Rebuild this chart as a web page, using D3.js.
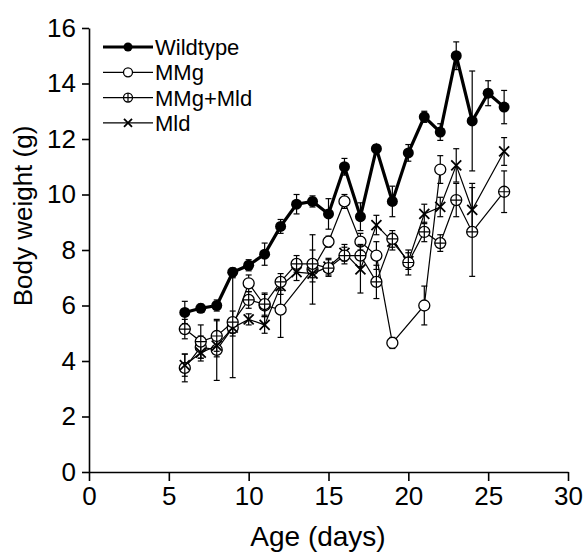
<!DOCTYPE html>
<html>
<head>
<meta charset="utf-8">
<script src="https://cdn.jsdelivr.net/npm/d3@7"></script>
<style>
  body { margin: 0; background: #fff; }
  text { font-family: "Liberation Sans", Arial, Helvetica, sans-serif; }
</style>
</head>
<body>
<div id="chart"></div>
<script>
// Chart size, same as the picture
const width = 585;
const height = 554;

// Body weight (g) per age (days)
const wildDays = [6, 7, 8, 9, 10, 11, 12, 13, 14, 15, 16, 17, 18, 19, 20, 21, 22, 23, 24, 25, 26];
const wildVals = [5.75, 5.9, 6.0, 7.2, 7.45, 7.85, 8.85, 9.65, 9.75, 9.3, 11.0, 9.2, 11.65, 9.75, 11.5, 12.8, 12.25, 15.0, 12.65, 13.65, 13.15];
const wildErr = [0.4, 0.15, 0.2, 0.15, 0.2, 0.4, 0.25, 0.35, 0.2, 0.55, 0.3, 0.5, 0.15, 0.55, 0.3, 0.2, 0.3, 0.5, 1.8, 0.45, 0.6];

const mmgDays = [6, 7, 8, 9, 10, 11, 12, 14, 15, 16, 17, 18, 19, 21, 22];
const mmgVals = [3.75, 4.5, 4.4, 5.2, 6.8, 6.0, 5.85, 7.3, 8.3, 9.75, 8.3, 7.8, 4.65, 6.0, 10.9];
const mmgErr = [0.5, 0.4, 1.1, 1.8, 0.3, 0.4, 1.0, 1.25, 0.2, 0.25, 0.3, 0.5, 0.2, 0.7, 0.5];

const bothDays = [6, 7, 8, 9, 10, 11, 12, 13, 14, 15, 16, 17, 18, 19, 20, 21, 22, 23, 24, 26];
const bothVals = [5.15, 4.7, 4.9, 5.4, 6.2, 6.05, 6.85, 7.5, 7.5, 7.35, 7.8, 7.8, 6.85, 8.4, 7.55, 8.65, 8.25, 9.8, 8.65, 10.1];
const bothErr = [0.35, 0.6, 0.55, 0.4, 0.3, 0.4, 0.3, 0.3, 0.5, 0.3, 0.3, 0.4, 0.6, 0.3, 0.45, 0.35, 0.3, 0.6, 1.6, 0.75];

const mldDays = [6, 7, 8, 9, 10, 11, 12, 13, 14, 15, 16, 17, 18, 19, 20, 21, 22, 23, 24, 26];
const mldVals = [3.85, 4.3, 4.55, 5.2, 5.5, 5.3, 6.7, 7.2, 7.15, 7.4, 7.9, 7.3, 8.9, 8.3, 7.6, 9.3, 9.55, 11.05, 9.45, 11.55];
const mldErr = [0.4, 0.3, 0.4, 0.3, 0.2, 0.3, 0.3, 0.3, 0.3, 0.3, 0.3, 0.85, 0.35, 0.3, 0.3, 0.35, 0.35, 0.6, 0.95, 0.5];

const seriesNames = ["Wildtype", "MMg", "MMg+Mld", "Mld"];
const xTicks = [0, 5, 10, 15, 20, 25, 30];
const yTicks = [0, 2, 4, 6, 8, 10, 12, 14, 16];

// zip a series into point objects
function zip(days, vals, errs) {
  return days.map((d, i) => ({day: d, val: vals[i], err: errs[i]}));
}

const series = [
  {name: seriesNames[0], kind: "filled", lineWidth: 3.2, data: zip(wildDays, wildVals, wildErr)},
  {name: seriesNames[1], kind: "open", lineWidth: 1.2, data: zip(mmgDays, mmgVals, mmgErr)},
  {name: seriesNames[3], kind: "cross", lineWidth: 1.2, data: zip(mldDays, mldVals, mldErr)},
  {name: seriesNames[2], kind: "plus", lineWidth: 1.2, data: zip(bothDays, bothVals, bothErr)}
];

const svg = d3.select("#chart")
  .append("svg")
  .attr("width", width)
  .attr("height", height);

const xScale = d3.scaleLinear().domain([0, 30]).range([89, 568]);
const yScale = d3.scaleLinear().domain([0, 16]).range([472, 28]);

/*
  Axes
*/
const yAxis = svg.append("g")
  .attr("transform", `translate(${xScale(0)},0)`)
  .call(d3.axisLeft(yScale).tickValues(yTicks).tickSize(7).tickPadding(6).tickSizeOuter(0));

const xAxis = svg.append("g")
  .attr("transform", `translate(0,${yScale(0)})`)
  .call(d3.axisBottom(xScale).tickValues(xTicks).tickSize(9).tickPadding(6).tickSizeOuter(0));

[xAxis, yAxis].forEach(g => {
  g.selectAll("path, line").attr("stroke", "#000").attr("stroke-width", 1.6);
  g.selectAll("text").attr("fill", "#000").style("font-size", "26px");
});

svg.append("text")
  .attr("x", 318)
  .attr("y", 546)
  .attr("text-anchor", "middle")
  .style("font-size", "28px")
  .text("Age (days)");

svg.append("text")
  .attr("transform", "translate(32,216) rotate(-90)")
  .attr("text-anchor", "middle")
  .style("font-size", "26px")
  .text("Body weight (g)");

/*
  Markers
*/
function drawMarker(g, kind, r) {
  if (kind === "filled") {
    g.append("circle").attr("r", r).attr("fill", "#000");
  } else if (kind === "open" || kind === "plus") {
    g.append("circle").attr("r", r).attr("fill", "#fff").attr("stroke", "#000").attr("stroke-width", 1.3);
    if (kind === "plus") {
      g.append("path").attr("d", `M${-r},0H${r}M0,${-r}V${r}`).attr("stroke", "#000").attr("stroke-width", 1.2);
    }
  } else {
    g.append("path").attr("d", `M${-r},${-r}L${r},${r}M${-r},${r}L${r},${-r}`)
      .attr("stroke", "#000").attr("stroke-width", 1.8);
  }
}

const line = d3.line().x(d => xScale(d.day)).y(d => yScale(d.val));

// draw order: thin series first, wildtype on top
const drawOrder = [series[1], series[2], series[3], series[0]];

drawOrder.forEach(s => {
  const g = svg.append("g");

  // error bars
  const bars = g.selectAll(".err").data(s.data).enter().append("g");
  bars.append("line")
    .attr("x1", d => xScale(d.day)).attr("x2", d => xScale(d.day))
    .attr("y1", d => yScale(d.val - d.err)).attr("y2", d => yScale(d.val + d.err))
    .attr("stroke", "#000").attr("stroke-width", 1.2);
  [-1, 1].forEach(sign => {
    bars.append("line")
      .attr("x1", d => xScale(d.day) - 3).attr("x2", d => xScale(d.day) + 3)
      .attr("y1", d => yScale(d.val + sign * d.err)).attr("y2", d => yScale(d.val + sign * d.err))
      .attr("stroke", "#000").attr("stroke-width", 1.2);
  });

  g.append("path")
    .datum(s.data)
    .attr("d", line)
    .attr("fill", "none")
    .attr("stroke", "#000")
    .attr("stroke-width", s.lineWidth);

  g.selectAll(".pt").data(s.data).enter().append("g")
    .attr("transform", d => `translate(${xScale(d.day)},${yScale(d.val)})`)
    .each(function () {
      drawMarker(d3.select(this), s.kind, s.kind === "cross" ? 5 : 5.5);
    });
});

/*
  Legend
*/
const legendKinds = ["filled", "open", "plus", "cross"];
const legendWidths = [3.2, 1.2, 1.2, 1.2];
const legend = svg.append("g").attr("transform", "translate(103,47)");
seriesNames.forEach((name, i) => {
  const row = legend.append("g").attr("transform", `translate(0,${i * 25.3})`);
  row.append("line").attr("x1", 0).attr("x2", 50).attr("y1", 0).attr("y2", 0)
    .attr("stroke", "#000").attr("stroke-width", legendWidths[i]);
  const m = row.append("g").attr("transform", "translate(25,0)");
  drawMarker(m, legendKinds[i], legendKinds[i] === "cross" ? 4 : 4.5);
  row.append("text").attr("x", 52).attr("y", 8).style("font-size", "22px").text(name);
});
</script>
</body>
</html>
